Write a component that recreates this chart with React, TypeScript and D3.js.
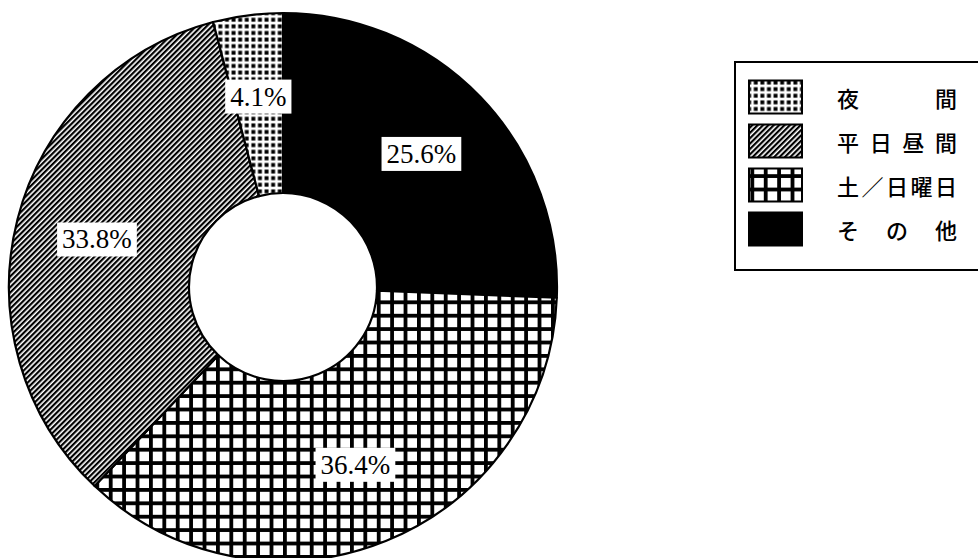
import React, { useEffect, useRef } from "react";
import * as d3 from "d3";

// Slices in clockwise order starting at 12 o'clock
const categories = ["その他", "土／日曜日", "平日昼間", "夜間"];
const values = [25.6, 36.4, 33.8, 4.1];
const labels = ["25.6%", "36.4%", "33.8%", "4.1%"];
const patternKeys = ["solid", "grid", "hatch", "dots"];
const legendOrder = ["夜間", "平日昼間", "土／日曜日", "その他"];

const W = 978;
const H = 558;

export default function App() {
  const ref = useRef<SVGSVGElement>(null);

  useEffect(() => {
    const svg = d3.select(ref.current);
    svg.selectAll("*").remove();
    const defs = svg.append("defs");

    // dots pattern
    const pd = defs.append("pattern").attr("id", "p-dots").attr("patternUnits", "userSpaceOnUse")
      .attr("width", 6.6).attr("height", 6.6);
    pd.append("rect").attr("width", 6.6).attr("height", 6.6).attr("fill", "#fff");
    pd.append("rect").attr("x", 1.4).attr("y", 1.4).attr("width", 3.9).attr("height", 3.9).attr("fill", "#000");

    // hatch pattern
    const ph = defs.append("pattern").attr("id", "p-hatch").attr("patternUnits", "userSpaceOnUse")
      .attr("width", 3.8).attr("height", 10).attr("patternTransform", "rotate(45)");
    ph.append("rect").attr("width", 3.8).attr("height", 10).attr("fill", "#fff");
    ph.append("rect").attr("width", 2.2).attr("height", 10).attr("fill", "#000");

    // grid pattern
    const pg = defs.append("pattern").attr("id", "p-grid").attr("patternUnits", "userSpaceOnUse")
      .attr("width", 13.4).attr("height", 13.4);
    pg.append("rect").attr("width", 13.4).attr("height", 13.4).attr("fill", "#000");
    pg.append("rect").attr("x", 3.8).attr("y", 3.8).attr("width", 9.6).attr("height", 9.6).attr("fill", "#fff");

    const fillOf = (k: string) => (k === "solid" ? "#000" : `url(#p-${k})`);

    const cx = 283, cy = 287, R = 274, r0 = 94, LR = 192;

    const pie = d3.pie<number>().sort(null).value((d) => d);
    const arcs = pie(values);
    const arc = d3.arc<d3.PieArcDatum<number>>().innerRadius(r0).outerRadius(R);
    const labelArc = d3.arc<d3.PieArcDatum<number>>().innerRadius(LR).outerRadius(LR);

    const g = svg.append("g").attr("transform", `translate(${cx},${cy})`);
    g.selectAll("path.slice")
      .data(arcs)
      .join("path")
      .attr("class", "slice")
      .attr("d", arc as any)
      .attr("fill", (_d, i) => fillOf(patternKeys[i]))
      .attr("stroke", "#000")
      .attr("stroke-width", 2.2)
      .attr("stroke-linejoin", "round");

    arcs.forEach((a, i) => {
      const [lx, ly] = labelArc.centroid(a);
      const lg = g.append("g").attr("transform", `translate(${lx},${ly})`);
      const rect = lg.append("rect").attr("fill", "#fff");
      const t = lg.append("text")
        .attr("text-anchor", "middle")
        .attr("dominant-baseline", "central")
        .attr("font-family", "'Liberation Serif', 'DejaVu Serif', serif")
        .attr("font-size", 27)
        .attr("fill", "#000")
        .text(labels[i]);
      const bb = (t.node() as SVGTextElement).getBBox();
      const padX = 5, h = 34;
      rect.attr("x", bb.x - padX).attr("y", -h / 2).attr("width", bb.width + padX * 2).attr("height", h);
    });

    // Legend
    const lgd = svg.append("g");
    lgd.append("rect").attr("x", 735).attr("y", 62).attr("width", 260).attr("height", 208)
      .attr("fill", "#fff").attr("stroke", "#000").attr("stroke-width", 2);
    legendOrder.forEach((name, i) => {
      const key = patternKeys[categories.indexOf(name)];
      const yc = 97 + i * 44;
      lgd.append("rect").attr("x", 749).attr("y", yc - 16.5).attr("width", 53).attr("height", 33)
        .attr("fill", fillOf(key)).attr("stroke", "#000").attr("stroke-width", 2);
      lgd.append("text")
        .attr("x", 837).attr("y", yc)
        .attr("dominant-baseline", "central")
        .attr("font-family", "'Noto Sans CJK JP', sans-serif")
        .attr("font-size", 22)
        .attr("font-weight", 500)
        .attr("textLength", 120)
        .attr("lengthAdjust", "spacing")
        .attr("fill", "#000")
        .text(name);
    });
  }, []);

  return (
    <svg
      ref={ref}
      width={W}
      height={H}
      style={{ position: "absolute", left: 0, top: 0, background: "#fff" }}
    />
  );
}
